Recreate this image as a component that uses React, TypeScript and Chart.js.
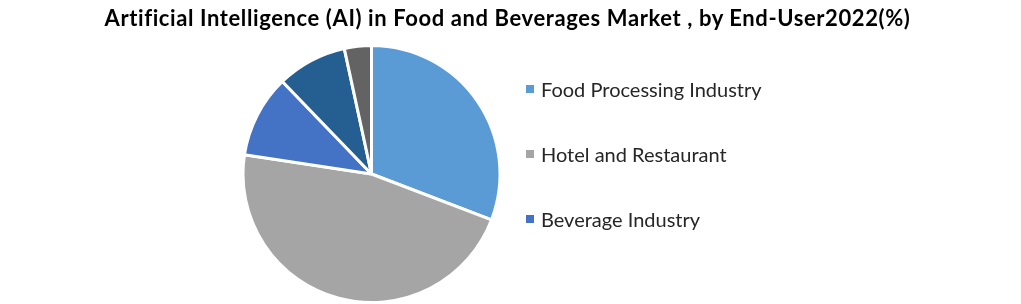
import React, { useEffect, useRef } from "react";
import { Chart, registerables } from "chart.js";

Chart.register(...registerables);

const title = "Artificial Intelligence (AI) in Food and Beverages Market , by End-User2022(%)";
const categories = ["Food Processing Industry", "Hotel and Restaurant", "Beverage Industry", "Dairy Industry", "Others"];
const shares = [30.8, 46.6, 10.4, 8.8, 3.4];
const colors = ["#5B9BD5", "#A5A5A5", "#4472C4", "#255E91", "#636363"];
const legendCount = 3;

export default function App() {
  const ref = useRef<HTMLCanvasElement | null>(null);
  useEffect(() => {
    if (!ref.current) return;
    const chart = new Chart(ref.current, {
      type: "pie",
      data: {
        labels: categories,
        datasets: [
          {
            data: shares,
            backgroundColor: colors,
            borderColor: "#FFFFFF",
            borderWidth: 3,
          },
        ],
      },
      options: {
        animation: false,
        responsive: false,
        layout: { padding: { left: 241, right: 519, top: 44, bottom: 0 } },
        plugins: {
          legend: { display: false },
          title: { display: false },
          tooltip: { enabled: false },
        },
      },
    });
    return () => chart.destroy();
  }, []);

  const font = "Lato, 'Open Sans', sans-serif";
  return (
    <div style={{ position: "fixed", left: 0, top: 0, width: 1021, height: 304, background: "#fff" }}>
      <canvas ref={ref} width={1021} height={304} style={{ position: "absolute", left: 0, top: 0 }} />
      <div
        style={{
          position: "absolute",
          left: 0,
          width: 1015,
          top: 4,
          textAlign: "center",
          fontFamily: font,
          fontWeight: 700,
          fontSize: 22,
          letterSpacing: 0.6,
          color: "#000",
          whiteSpace: "nowrap",
        }}
      >
        {title}
      </div>
      {categories.slice(0, legendCount).map((c, i) => (
        <div
          key={c}
          style={{
            position: "absolute",
            left: 526,
            top: 76 + i * 65,
            height: 26,
            display: "flex",
            alignItems: "center",
            fontFamily: font,
            fontSize: 20,
            color: "#262626",
            whiteSpace: "nowrap",
          }}
        >
          <span style={{ display: "inline-block", width: 8, height: 8, background: colors[i], marginRight: 7 }} />
          {c}
        </div>
      ))}
    </div>
  );
}
